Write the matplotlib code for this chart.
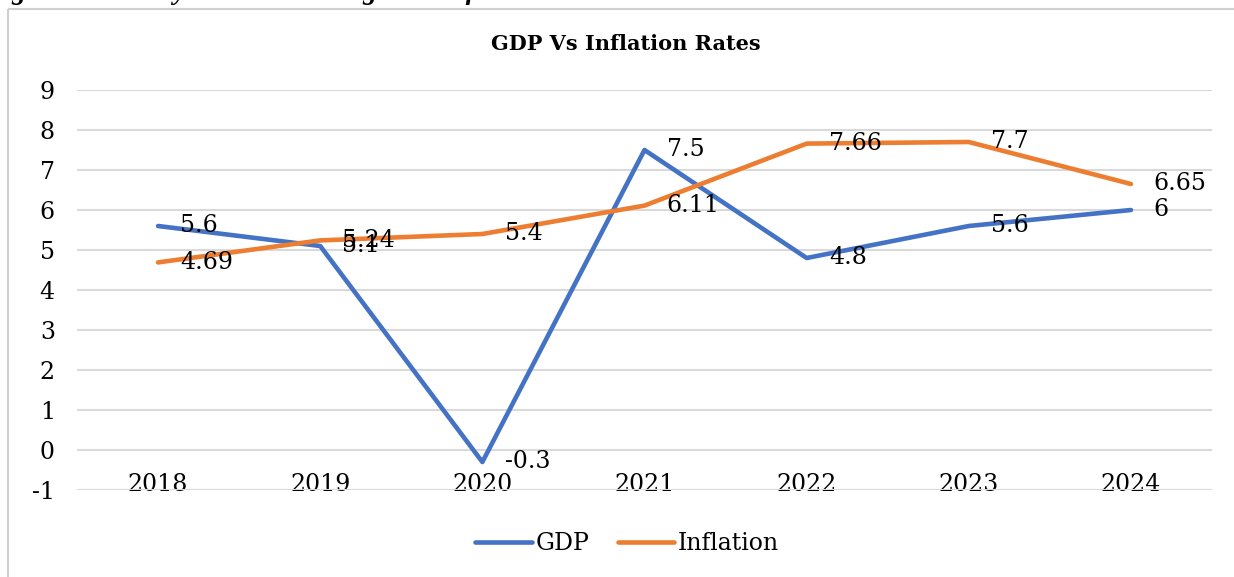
import matplotlib.pyplot as plt
from matplotlib.lines import Line2D

years = ["2018", "2019", "2020", "2021", "2022", "2023", "2024"]
gdp = [5.6, 5.1, -0.3, 7.5, 4.8, 5.6, 6.0]
inflation = [4.69, 5.24, 5.4, 6.11, 7.66, 7.7, 6.65]
gdp_labels = ["5.6", "5.1", "-0.3", "7.5", "4.8", "5.6", "6"]
inflation_labels = ["4.69", "5.24", "5.4", "6.11", "7.66", "7.7", "6.65"]

plt.rcParams["font.family"] = ["DejaVu Serif"]

fig = plt.figure(figsize=(12.34, 5.77), dpi=100, facecolor="white", edgecolor="white",
                 linewidth=0)
W, H = 1234, 577

# chart frame (left and top edges only, the rest is cropped) and clipped caption
fx, fy = 7.5 / W, 1 - 8.5 / H
fig.lines.append(Line2D([fx, fx], [-0.1, fy], transform=fig.transFigure,
                        color="#d0d0d0", lw=1.5, solid_capstyle="butt"))
fig.lines.append(Line2D([fx, 1.1], [fy, fy], transform=fig.transFigure,
                        color="#d0d0d0", lw=1.5, solid_capstyle="butt"))
fig.text(-14 / W, 1 + 1 / H, "Figure 14: Yearly GDP Growth against Inflation Rate",
         fontsize=20, style="italic", fontweight="bold", va="baseline", ha="left",
         family="Liberation Serif")

ax = fig.add_axes([77 / W, 1 - 490 / H, (1212 - 77) / W, 400 / H])
x = [i + 0.5 for i in range(len(years))]

ax.plot(x, gdp, color="#4472C4", lw=3.3, solid_capstyle="round", label="GDP", zorder=3)
ax.plot(x, inflation, color="#ED7D31", lw=3.3, solid_capstyle="round", label="Inflation", zorder=3)

for xi, v, t in zip(x, gdp, gdp_labels):
    ax.annotate(t, (xi, v), xytext=(16, 0), textcoords="offset points",
                va="center", ha="left", fontsize=17, zorder=4)
for xi, v, t in zip(x, inflation, inflation_labels):
    ax.annotate(t, (xi, v), xytext=(16, 0), textcoords="offset points",
                va="center", ha="left", fontsize=17, zorder=4)

ax.set_xlim(0, len(years))
ax.set_ylim(-1, 9)
ax.set_yticks(range(-1, 10))
ax.set_yticklabels([str(v) for v in range(-1, 10)], fontsize=17)
ax.set_xticks(x)
ax.set_xticklabels(years, fontsize=17)
ax.tick_params(axis="y", length=0, pad=16)
ax.tick_params(axis="x", length=0, pad=-12.5)
ax.grid(axis="y", color="#d9d9d9", lw=1.5)
ax.set_axisbelow(True)
for s in ax.spines.values():
    s.set_visible(False)

fig.text(626 / W, 1 - 44 / H, "GDP Vs Inflation Rates", fontsize=15, fontweight="bold",
         ha="center", va="center")

fig.legend(loc="center", bbox_to_anchor=(627 / W, 1 - 544 / H), ncol=2, frameon=False,
           fontsize=17, handlelength=2.4, handletextpad=0.15, columnspacing=1.2)

fig.savefig("out.png", dpi=100)
